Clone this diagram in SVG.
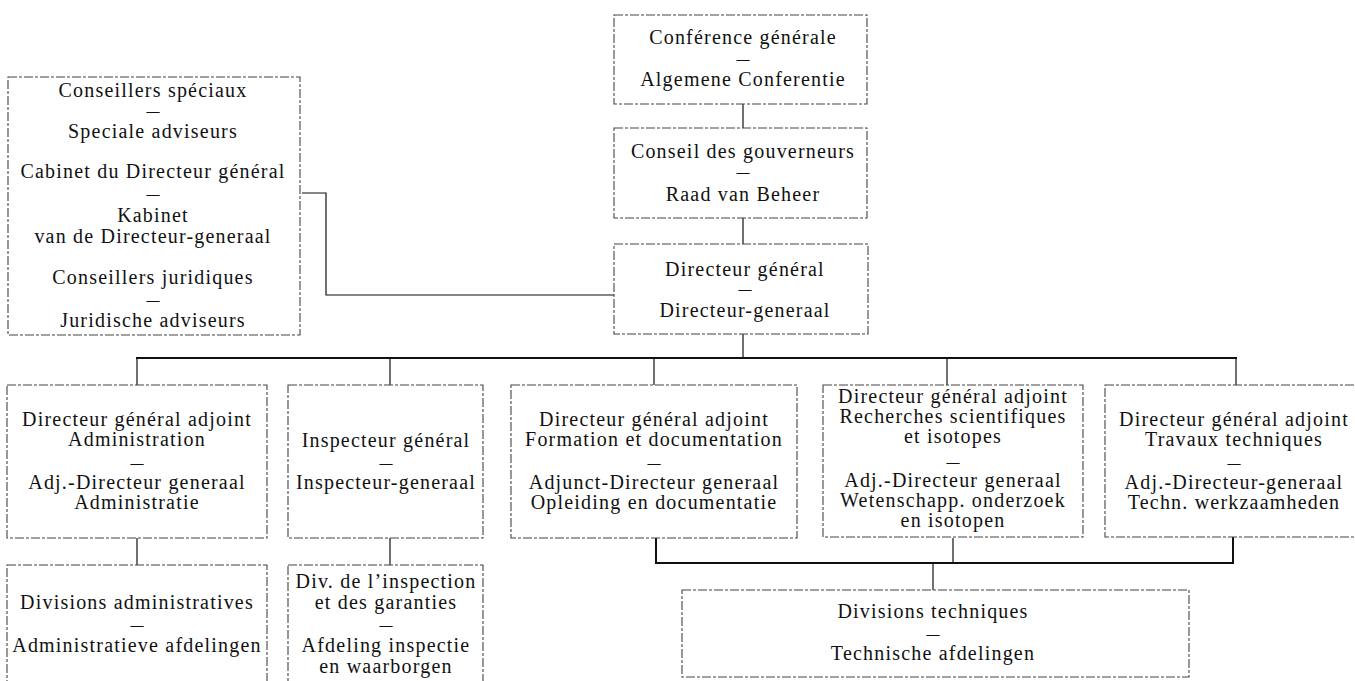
<svg xmlns="http://www.w3.org/2000/svg" width="1355" height="681" viewBox="0 0 1355 681">
<style>
.box{fill:none;stroke:#444;stroke-width:1.1;stroke-dasharray:9 2 3 2}
.t{font-family:"Liberation Serif","Times New Roman",serif;font-size:20px;letter-spacing:1.2px;text-anchor:middle;fill:#111}
.d{font-family:"Liberation Serif","Times New Roman",serif;font-size:13px;font-weight:bold;text-anchor:middle;fill:#111}
.c{fill:none;stroke:#111;stroke-width:1.2}
.bus{fill:none;stroke:#111;stroke-width:2}
</style>
<rect width="1355" height="681" fill="#fff"/>
<g id="connectors">
<line class="c" x1="743" y1="104" x2="743" y2="128"/>
<line class="c" x1="743" y1="218" x2="743" y2="244"/>
<line class="c" x1="743" y1="334" x2="743" y2="358"/>
<line class="bus" x1="136" y1="358" x2="1237" y2="358"/>
<line class="c" x1="137" y1="358" x2="137" y2="385"/>
<line class="c" x1="390" y1="358" x2="390" y2="385"/>
<line class="c" x1="654" y1="358" x2="654" y2="385"/>
<line class="c" x1="947" y1="358" x2="947" y2="385"/>
<line class="c" x1="1236" y1="358" x2="1236" y2="385"/>
<polyline class="c" points="302,193 326,193 326,295 614,295"/>
<line class="c" x1="137" y1="538" x2="137" y2="565"/>
<line class="c" x1="390" y1="538" x2="390" y2="565"/>
<polyline class="bus" points="656,538 656,563 1233,563 1233,537"/>
<line class="c" x1="953" y1="538" x2="953" y2="563"/>
<line class="c" x1="933" y1="563" x2="933" y2="590"/>
</g>
<g id="conference">
<rect class="box" x="614" y="15" width="253" height="89"/>
<text class="t" x="743" y="44">Conférence générale</text>
<text class="d" x="743" y="63">—</text>
<text class="t" x="743" y="86">Algemene Conferentie</text>
</g>
<g id="conseil">
<rect class="box" x="614" y="128" width="253" height="90"/>
<text class="t" x="743" y="158">Conseil des gouverneurs</text>
<text class="d" x="743" y="176">—</text>
<text class="t" x="743" y="201">Raad van Beheer</text>
</g>
<g id="directeur">
<rect class="box" x="614" y="244" width="254" height="90"/>
<text class="t" x="745" y="276">Directeur général</text>
<text class="d" x="745" y="293">—</text>
<text class="t" x="745" y="317">Directeur-generaal</text>
</g>
<g id="conseillers">
<rect class="box" x="8" y="77" width="292" height="258"/>
<text class="t" x="153" y="97">Conseillers spéciaux</text>
<text class="d" x="153" y="115">—</text>
<text class="t" x="153" y="138">Speciale adviseurs</text>
<text class="t" x="153" y="178">Cabinet du Directeur général</text>
<text class="d" x="153" y="198">—</text>
<text class="t" x="153" y="222">Kabinet</text>
<text class="t" x="153" y="243">van de Directeur-generaal</text>
<text class="t" x="153" y="284">Conseillers juridiques</text>
<text class="d" x="153" y="304">—</text>
<text class="t" x="153" y="327">Juridische adviseurs</text>
</g>
<g id="adj-admin">
<rect class="box" x="7" y="385" width="260" height="153"/>
<text class="t" x="137" y="426">Directeur général adjoint</text>
<text class="t" x="137" y="446">Administration</text>
<text class="d" x="137" y="467">—</text>
<text class="t" x="137" y="489">Adj.-Directeur generaal</text>
<text class="t" x="137" y="509">Administratie</text>
</g>
<g id="inspecteur">
<rect class="box" x="288" y="385" width="195" height="153"/>
<text class="t" x="386" y="447">Inspecteur général</text>
<text class="d" x="386" y="467">—</text>
<text class="t" x="386" y="489">Inspecteur-generaal</text>
</g>
<g id="adj-formation">
<rect class="box" x="511" y="385" width="286" height="153"/>
<text class="t" x="654" y="426">Directeur général adjoint</text>
<text class="t" x="654" y="446">Formation et documentation</text>
<text class="d" x="654" y="467">—</text>
<text class="t" x="654" y="489">Adjunct-Directeur generaal</text>
<text class="t" x="654" y="509">Opleiding en documentatie</text>
</g>
<g id="adj-recherches">
<rect class="box" x="823" y="385" width="260" height="152"/>
<text class="t" x="953" y="403">Directeur général adjoint</text>
<text class="t" x="953" y="423">Recherches scientifiques</text>
<text class="t" x="953" y="443">et isotopes</text>
<text class="d" x="953" y="466">—</text>
<text class="t" x="953" y="487">Adj.-Directeur generaal</text>
<text class="t" x="953" y="507">Wetenschapp. onderzoek</text>
<text class="t" x="953" y="527">en isotopen</text>
</g>
<g id="adj-travaux">
<rect class="box" x="1105" y="385" width="262" height="152"/>
<text class="t" x="1234" y="426">Directeur général adjoint</text>
<text class="t" x="1234" y="446">Travaux techniques</text>
<text class="d" x="1234" y="467">—</text>
<text class="t" x="1234" y="489">Adj.-Directeur-generaal</text>
<text class="t" x="1234" y="509">Techn. werkzaamheden</text>
</g>
<g id="div-admin">
<rect class="box" x="7" y="565" width="260" height="130"/>
<text class="t" x="137" y="609">Divisions administratives</text>
<text class="d" x="137" y="629">—</text>
<text class="t" x="137" y="652">Administratieve afdelingen</text>
</g>
<g id="div-inspection">
<rect class="box" x="288" y="565" width="195" height="130"/>
<text class="t" x="386" y="588">Div. de l’inspection</text>
<text class="t" x="386" y="609">et des garanties</text>
<text class="d" x="386" y="629">—</text>
<text class="t" x="386" y="652">Afdeling inspectie</text>
<text class="t" x="386" y="673">en waarborgen</text>
</g>
<g id="div-techniques">
<rect class="box" x="682" y="590" width="507" height="87"/>
<text class="t" x="933" y="618">Divisions techniques</text>
<text class="d" x="933" y="638">—</text>
<text class="t" x="933" y="660">Technische afdelingen</text>
</g>
</svg>
